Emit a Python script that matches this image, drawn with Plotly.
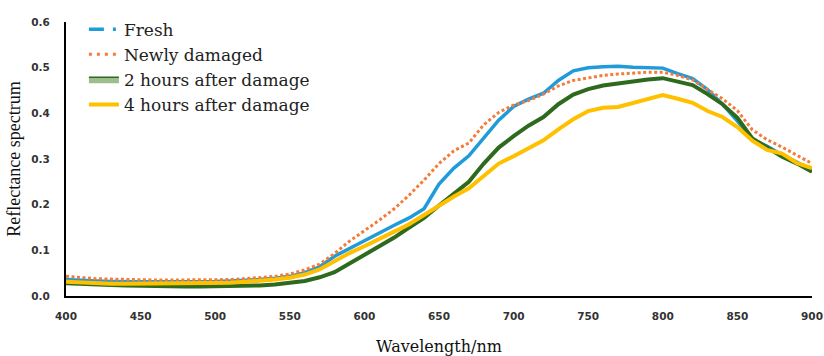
import plotly.graph_objects as go

wavelength = list(range(400, 901, 10))

fresh = [0.036, 0.034, 0.033, 0.032, 0.031, 0.031, 0.031, 0.031, 0.031, 0.031,
         0.032, 0.033, 0.034, 0.036, 0.039, 0.043, 0.051, 0.064, 0.087, 0.104,
         0.122, 0.140, 0.155, 0.171, 0.191, 0.245, 0.280, 0.307, 0.345, 0.385,
         0.415, 0.431, 0.444, 0.472, 0.493, 0.500, 0.502, 0.503, 0.501, 0.500,
         0.499, 0.487, 0.476, 0.452, 0.420, 0.383, 0.343, 0.328, 0.309, 0.293,
         0.275]

newly_damaged = [0.043, 0.040, 0.038, 0.037, 0.036, 0.036, 0.035, 0.035, 0.035, 0.035,
                 0.035, 0.036, 0.038, 0.040, 0.043, 0.048, 0.057, 0.070, 0.093, 0.120,
                 0.143, 0.166, 0.191, 0.221, 0.254, 0.290, 0.318, 0.335, 0.375, 0.402,
                 0.418, 0.428, 0.442, 0.460, 0.472, 0.478, 0.483, 0.486, 0.488, 0.490,
                 0.490, 0.483, 0.473, 0.452, 0.432, 0.406, 0.364, 0.342, 0.326, 0.308,
                 0.290]

hours_2 = [0.028, 0.026, 0.025, 0.024, 0.023, 0.022, 0.022, 0.021, 0.021, 0.021,
           0.021, 0.021, 0.022, 0.023, 0.025, 0.028, 0.033, 0.041, 0.052, 0.071,
           0.090, 0.108, 0.128, 0.150, 0.171, 0.198, 0.225, 0.250, 0.290, 0.325,
           0.350, 0.373, 0.392, 0.420, 0.441, 0.453, 0.461, 0.466, 0.471, 0.474,
           0.477, 0.469, 0.462, 0.442, 0.420, 0.390, 0.345, 0.325, 0.305, 0.290,
           0.272]

hours_4 = [0.031, 0.029, 0.028, 0.027, 0.027, 0.027, 0.027, 0.027, 0.027, 0.028,
           0.028, 0.029, 0.031, 0.033, 0.036, 0.040, 0.047, 0.058, 0.076, 0.094,
           0.109, 0.124, 0.141, 0.157, 0.178, 0.199, 0.218, 0.236, 0.263, 0.290,
           0.306, 0.323, 0.341, 0.365, 0.387, 0.405, 0.412, 0.414, 0.422, 0.432,
           0.440, 0.432, 0.423, 0.405, 0.392, 0.370, 0.340, 0.320, 0.312, 0.291,
           0.280]

series_names = ["Fresh", "Newly damaged", "2 hours after damage", "4 hours after damage"]
x_ticks = [400, 450, 500, 550, 600, 650, 700, 750, 800, 850, 900]
y_ticks = [0.0, 0.1, 0.2, 0.3, 0.4, 0.5, 0.6]

BLUE = "#1F9BD9"
ORANGE = "#F47B3A"
GREEN = "#2E6A1E"
YELLOW = "#FFC000"

fig = go.Figure()

# data curves
fig.add_trace(go.Scatter(x=wavelength, y=fresh, mode="lines", showlegend=False,
                         line=dict(color=BLUE, width=3.5)))
fig.add_trace(go.Scatter(x=wavelength, y=newly_damaged, mode="lines", showlegend=False,
                         line=dict(color=ORANGE, width=3, dash="3px,2.5px")))
fig.add_trace(go.Scatter(x=wavelength, y=hours_2, mode="lines", showlegend=False,
                         line=dict(color=GREEN, width=4)))
fig.add_trace(go.Scatter(x=wavelength, y=hours_4, mode="lines", showlegend=False,
                         line=dict(color=YELLOW, width=4)))

# legend entries
fig.add_trace(go.Scatter(x=[None], y=[None], mode="lines", name=series_names[0],
                         line=dict(color=BLUE, width=3.5, dash="15px,9px,3px,20px")))
fig.add_trace(go.Scatter(x=[None], y=[None], mode="lines", name=series_names[1],
                         line=dict(color=ORANGE, width=3, dash="3px,5px")))
fig.add_trace(go.Scatter(x=[None], y=[None], mode="lines", name=series_names[2],
                         fill="toself", fillcolor="#9DBE8C",
                         line=dict(color=GREEN, width=1.5)))
fig.add_trace(go.Scatter(x=[None], y=[None], mode="lines", name=series_names[3],
                         line=dict(color=YELLOW, width=4)))

tickfont = dict(family="DejaVu Sans", size=10.5, color="#333333", weight="bold")

fig.update_layout(
    width=824, height=356,
    margin=dict(l=66, r=12, t=20, b=60),
    plot_bgcolor="white", paper_bgcolor="white",
    legend=dict(x=0.024, y=1.038, xanchor="left", yanchor="top",
                font=dict(family="DejaVu Serif", size=17, color="#222222"),
                bgcolor="rgba(0,0,0,0)", itemwidth=30),
    xaxis=dict(range=[400, 900], tickvals=x_ticks, showgrid=False, zeroline=False,
               showline=True, linecolor="black", linewidth=2, ticks="",
               tickfont=tickfont, ticklabelstandoff=9, automargin=False,
               title=dict(text="Wavelength/nm",
                          font=dict(family="DejaVu Serif", size=16, color="#111111"),
                          standoff=21)),
    yaxis=dict(range=[0, 0.6], tickvals=y_ticks, tickformat=".1f", showgrid=False,
               zeroline=False, showline=True, linecolor="black", linewidth=2, ticks="",
               tickfont=tickfont, ticklabelstandoff=12, automargin=False,
               title=dict(text="Reflectance spectrum",
                          font=dict(family="Liberation Serif", size=18, color="#111111"),
                          standoff=6)),
)

fig.write_html("out.html",
               config={"displayModeBar": False},
               post_script="document.body.style.margin='0';document.body.style.overflow='hidden';")
